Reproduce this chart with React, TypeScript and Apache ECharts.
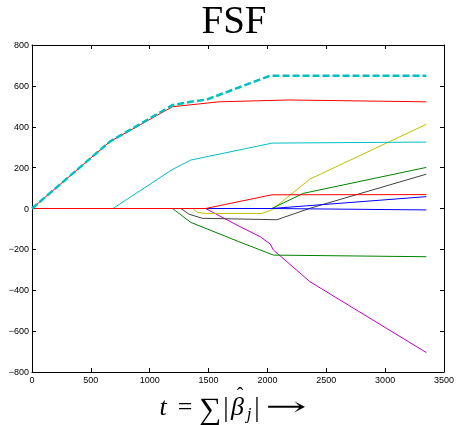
import React, { useEffect, useRef } from "react";
import * as echarts from "echarts";

const titleText = "FSF";
const xTicks = { min: 0, max: 3500, interval: 500 };
const yTicks = { min: -800, max: 800, interval: 200 };

const cyanDashed = [[0, 0], [661, 327], [1194, 506], [1349, 522], [1489, 534], [2024, 650], [3350, 650]];
const redTop = [[0, 0], [661, 327], [1194, 498], [1588, 522], [2178, 531], [3350, 522]];
const cyanSolid = [[0, 0], [688, 0], [1190, 190], [1349, 237], [2040, 320], [3350, 325]];
const redLow = [[0, 0], [1475, 0], [2037, 67], [3350, 68]];
const yellow = [[0, 0], [1363, 0], [1405, -19], [1475, -24], [1953, -24], [2037, -7], [2361, 144], [3350, 412]];
const greenUp = [[0, 0], [2037, 0], [2304, 74], [3350, 201]];
const black = [[0, 0], [1265, 0], [1335, -28], [1447, -48], [2080, -55], [2361, 1], [3350, 168]];
const blueUp = [[0, 0], [2037, 0], [3350, 58]];
const blueLow = [[0, 0], [2037, 0], [3350, -7]];
const greenLow = [[0, 0], [1194, 0], [1349, -68], [1756, -162], [2051, -228], [3350, -236]];
const magenta = [[0, 0], [1475, 0], [1757, -86], [1939, -138], [2024, -174], [2051, -203], [2361, -358], [3350, -705]];

const C = {
  b: "#0000ff",
  g: "#008000",
  r: "#ff0000",
  c: "#00bfbf",
  m: "#bf00bf",
  y: "#bfbf00",
  k: "#404040",
};

const line = (data: number[][], color: string, extra: any = {}) => ({
  type: "line",
  data,
  showSymbol: false,
  symbol: "none",
  xAxisIndex: 0,
  yAxisIndex: 0,
  lineStyle: { color, width: 1, ...extra },
  itemStyle: { color },
});

const fmt = (v: number) => String(v).replace("-", "\u2212");

const glyph = (text: string, x: number, y: number, fontSize: number, opts: any = {}) => ({
  type: "text",
  x,
  y,
  scaleX: opts.scaleX ?? 1,
  style: {
    text,
    fontFamily: opts.family ?? "Liberation Serif",
    fontStyle: opts.italic ? "italic" : "normal",
    fontSize,
    fill: "#000",
    textAlign: "center",
    textVerticalAlign: "middle",
  },
});

export default function App() {
  const ref = useRef<HTMLDivElement>(null);
  useEffect(() => {
    if (!ref.current) return;
    const chart = echarts.init(ref.current, undefined, { renderer: "svg" });
    const labelStyle = { fontFamily: "Liberation Sans", fontSize: 9, color: "#000" };
    const axisLine = { show: true, onZero: false, lineStyle: { color: "#000", width: 1 } };
    const tick = { show: true, inside: true, length: 4, lineStyle: { color: "#000", width: 1 } };
    chart.setOption({
      animation: false,
      grid: { left: 32, right: 10, top: 45, bottom: 53 },
      xAxis: [
        {
          type: "value", ...xTicks, position: "bottom",
          axisLine, axisTick: tick, splitLine: { show: false },
          axisLabel: { ...labelStyle, margin: 3, formatter: fmt },
        },
        {
          type: "value", ...xTicks, position: "top",
          axisLine, axisTick: tick, splitLine: { show: false },
          axisLabel: { show: false },
        },
      ],
      yAxis: [
        {
          type: "value", ...yTicks, position: "left",
          axisLine, axisTick: tick, splitLine: { show: false },
          axisLabel: { ...labelStyle, margin: 3, formatter: fmt },
        },
        {
          type: "value", ...yTicks, position: "right",
          axisLine, axisTick: tick, splitLine: { show: false },
          axisLabel: { show: false },
        },
      ],
      series: [
        line(magenta, C.m),
        line(greenLow, C.g),
        line(black, C.k),
        line(yellow, C.y),
        line(greenUp, C.g),
        line(blueLow, C.b),
        line(blueUp, C.b),
        line(cyanSolid, C.c),
        line(redLow, C.r),
        line(redTop, C.r),
        line(cyanDashed, C.c, { width: 2.5, type: [7, 3] }),
      ],
      graphic: [
        glyph(titleText, 234, 19.5, 39),
        glyph("t", 163, 406, 26, { italic: true }),
        glyph("=", 185, 406, 26),
        glyph("\u2211", 210, 408, 31),
        glyph("|", 226, 406.5, 27),
        glyph("\u03b2", 237.5, 406, 26, { italic: true }),
        glyph("\u02c6", 240, 395, 20),
        glyph("j", 249, 413, 17, { italic: true }),
        glyph("|", 257, 406.5, 27),
        glyph("\u2192", 286, 406, 26, { family: "DejaVu Serif", scaleX: 1.9 }),
      ],
    });
    return () => chart.dispose();
  }, []);
  return <div ref={ref} style={{ position: "fixed", left: 0, top: 0, width: 457, height: 425 }} />;
}
